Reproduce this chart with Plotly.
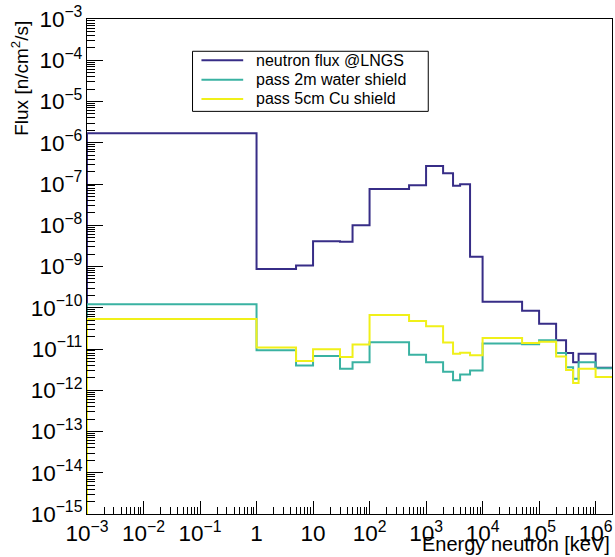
import numpy as np
import plotly.graph_objects as go

# Energy bin edges [keV]
edges = [1e-3, 1, 5, 10, 30, 50, 100, 500, 1e3, 2e3, 3e3, 4e3, 6e3, 1e4,
         5e4, 1e5, 2e5, 3e5, 4e5, 5e5, 1e6, 2e6]

# Bin contents: flux [n/cm^2/s]
flux_lngs = [1.7e-6, 8.7e-10, 1.06e-9, 4.1e-9, 4.0e-9, 1.0e-8, 7.6e-8, 9.3e-8,
             2.75e-7, 1.83e-7, 9.1e-8, 9.9e-8, 1.72e-9, 1.39e-10, 8.4e-11,
             4.1e-11, 1.63e-11, 8.0e-12, 4.8e-12, 7.7e-12, 3.5e-12]
flux_water = [1.22e-10, 9.3e-12, 4.0e-12, 6.8e-12, 3.3e-12, 4.8e-12, 1.46e-11,
              7.3e-12, 4.75e-12, 2.8e-12, 1.74e-12, 2.4e-12, 3.0e-12, 1.35e-11,
              1.3e-11, 1.63e-11, 8.0e-12, 3.6e-12, 1.9e-12, 4.8e-12, 3.4e-12]
flux_cu = [5.3e-11, 1.08e-11, 5.1e-12, 9.8e-12, 6.4e-12, 1.28e-11, 6.7e-11,
           4.8e-11, 3.55e-11, 1.43e-11, 7.7e-12, 8.1e-12, 7.1e-12, 1.85e-11,
           1.4e-11, 1.5e-11, 6.6e-12, 3.1e-12, 1.5e-12, 3.3e-12, 2.1e-12]

series_names = ["neutron flux @LNGS", "pass 2m water shield", "pass 5cm Cu shield"]
series_values = [flux_lngs, flux_water, flux_cu]
series_colors = ["rgb(55,45,135)", "rgb(58,178,162)", "rgb(240,240,25)"]

y_floor = 1e-15
x_range = [-3, 6.29]
y_range = [-15, -3]

font_main = "Liberation Sans, Arial, Helvetica, sans-serif"

fig = go.Figure()
for name, vals, color in zip(series_names, series_values, series_colors):
    # histogram outline: rise from the axis floor, then step through the bins
    xs = [edges[0]] + list(edges)
    ys = [y_floor] + list(vals) + [vals[-1]]
    fig.add_trace(go.Scatter(
        x=xs, y=ys, mode="lines", name=name,
        line=dict(color=color, width=2, shape="hv"),
        hoverinfo="skip", showlegend=False,
    ))

# Boxed legend drawn in paper coordinates
box_x0, box_x1, box_y0, box_y1 = 0.201, 0.650, 0.8134, 0.9348
line_x0, line_x1, text_x = 0.218, 0.2975, 0.318
row_y = [0.9166, 0.8775, 0.8385]

shapes = [dict(type="rect", xref="paper", yref="paper",
               x0=box_x0, x1=box_x1, y0=box_y0, y1=box_y1,
               line=dict(color="black", width=1), fillcolor="white", layer="above")]
annotations = []
for name, color, ry in zip(series_names, series_colors, row_y):
    shapes.append(dict(type="line", xref="paper", yref="paper",
                       x0=line_x0, x1=line_x1, y0=ry, y1=ry,
                       line=dict(color=color, width=2), layer="above"))
    annotations.append(dict(text=name, xref="paper", yref="paper",
                            x=text_x, y=ry, xanchor="left", yanchor="middle",
                            showarrow=False,
                            font=dict(family=font_main, size=16, color="black")))

annotations += [
    dict(text="Flux [n/cm<sup>2</sup>/s]", xref="paper", yref="paper",
         x=-0.129, y=1.0, xanchor="center", yanchor="top",
         textangle=-90, showarrow=False,
         font=dict(family=font_main, size=19, color="black")),
    dict(text="Energy neutron [keV]", xref="paper", yref="paper",
         x=1.0, y=-0.034, xanchor="right", yanchor="top",
         showarrow=False,
         font=dict(family=font_main, size=20, color="black")),
]

axis_common = dict(
    type="log",
    showgrid=False,
    zeroline=False,
    showline=True,
    linecolor="black",
    linewidth=1,
    mirror=True,
    ticks="inside",
    tickcolor="black",
    exponentformat="power",
    dtick=1,
    tickfont=dict(family=font_main, size=18, color="black"),
)

fig.update_xaxes(
    **axis_common,
    range=x_range,
    ticklen=13,
    minor=dict(ticks="inside", ticklen=7, tickcolor="black", showgrid=False),
)
fig.update_yaxes(
    **axis_common,
    range=y_range,
    ticklen=16,
    minor=dict(ticks="inside", ticklen=8, tickcolor="black", showgrid=False),
)

fig.update_layout(
    width=615,
    height=557,
    margin=dict(l=87, r=3, t=19, b=43),
    paper_bgcolor="white",
    plot_bgcolor="white",
    font=dict(family=font_main, color="black"),
    showlegend=False,
    shapes=shapes,
    annotations=annotations,
)

fig.write_html("out.html")
